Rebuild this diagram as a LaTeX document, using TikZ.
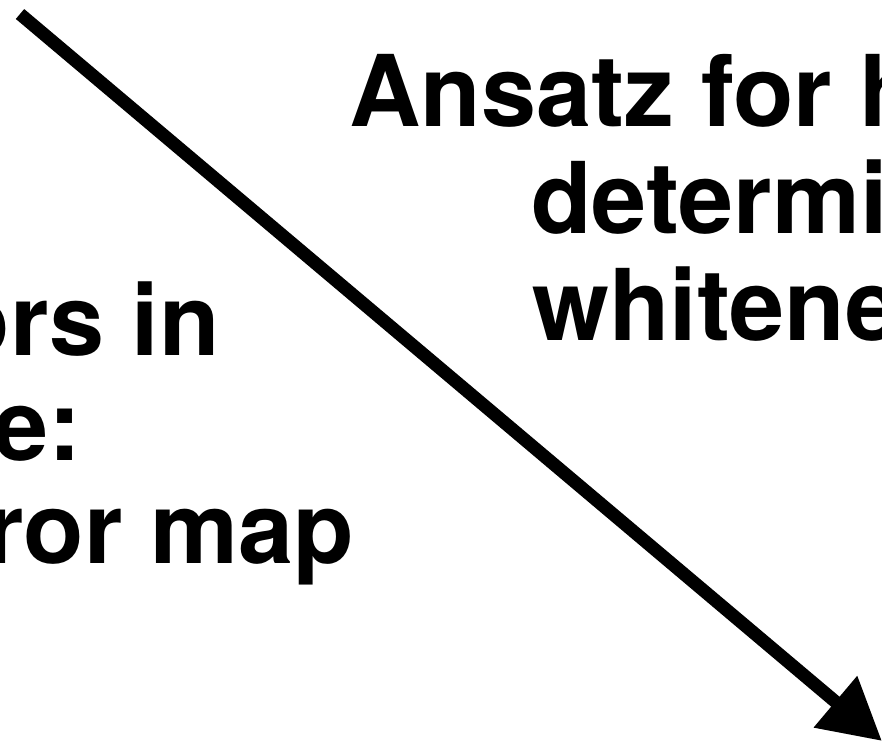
\documentclass[tikz,border=0pt]{standalone}
\usepackage{fontspec}
\setmainfont{TeX Gyre Heros}
\usetikzlibrary{arrows.meta}
\begin{document}
\begin{tikzpicture}[x=1pt,y=-1pt,
  label/.style={inner sep=0pt,font=\fontsize{99}{107}\selectfont\bfseries},
  bigarrow/.style={line width=13pt,-{Triangle[length=61pt,width=64pt]}}]
\useasboundingbox (0,0) rectangle (882,742);
\clip (0,0) rectangle (882,742);
% right-hand block of text
\node[label,anchor=base west] (r1) at (349,126) {Ansatz for h};
\node[label,anchor=base west] (r2) at (531,233) {determi};
\node[label,anchor=base west] (r3) at (532,340) {whitene};
% left-hand block of text
\node[label,anchor=base east] (l1) at (220,355) {ors in};
\node[label,anchor=base east] (l2) at (82,460) {e:};
\node[label,anchor=base east] (l3) at (354,563) {ror map};
% diagonal arrow
\coordinate (s) at (20,14);
\coordinate (t) at (882,741);
\draw[bigarrow] (s) -- (t);
\end{tikzpicture}
\end{document}
